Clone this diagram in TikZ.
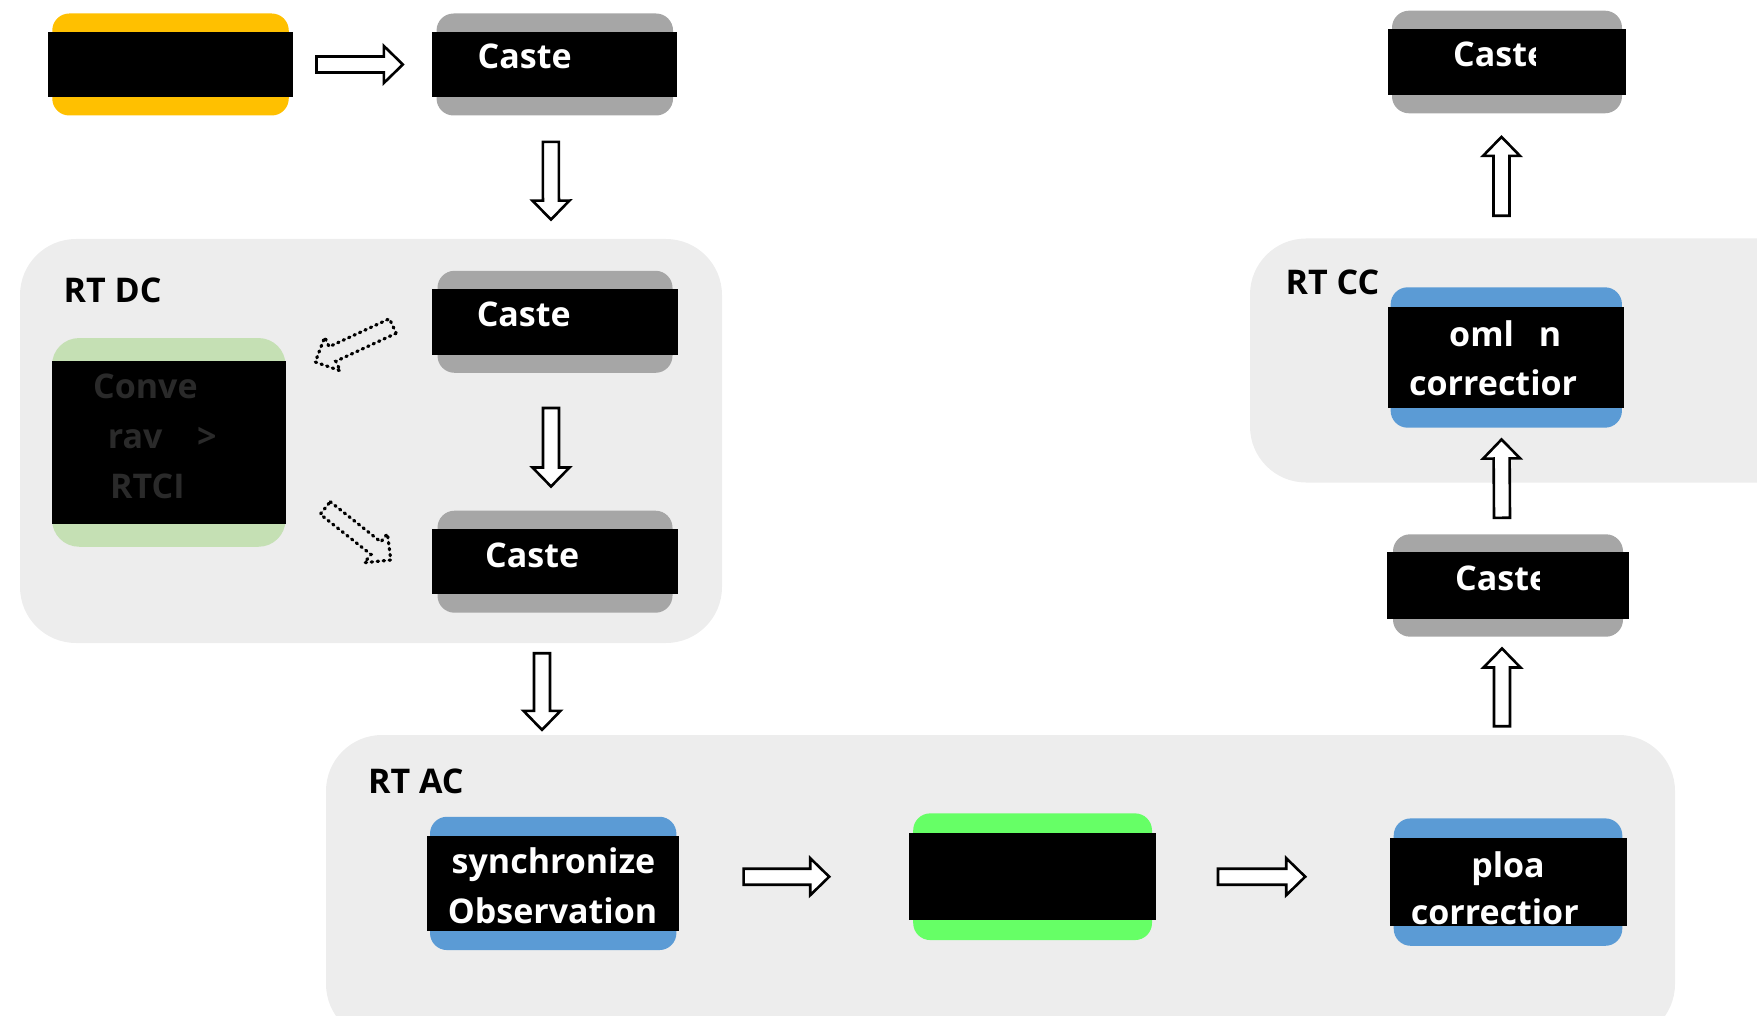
\documentclass[tikz,border=0pt]{standalone}
\usepackage{fontspec}
\setmainfont{Open Sans}
\usetikzlibrary{calc}

\definecolor{grpfill}{HTML}{EDEDED}
\definecolor{capgray}{HTML}{A6A6A6}
\definecolor{srcyellow}{HTML}{FFC000}
\definecolor{convgreen}{HTML}{C5E0B4}
\definecolor{procblue}{HTML}{5B9BD5}
\definecolor{brightgreen}{HTML}{66FF66}
\definecolor{dimtext}{HTML}{2A2A2A}

\tikzset{
  grpbox/.style={fill=grpfill, rounded corners=56pt, inner sep=0pt},
  outerbox/.style={rounded corners=17pt, inner sep=0pt},
  bandbox/.style={fill=black, inner sep=0pt},
  txt/.style={inner sep=0pt, text=white, font=\bfseries\fontsize{34}{40}\selectfont,
              text height=24pt, text depth=0pt},
  grplabel/.style={txt, text=black, anchor=west},
  barrow/.style={draw=black, fill=white, line width=2.6pt, line join=miter},
  dotbarrow/.style={fill=none, line width=3.2pt, line cap=round, dash pattern=on 1.4pt off 4.6pt}
}

% coloured rounded box with a black band across it
% #1 extra box options, #2 name, #3 colour, #4 cx, #5 cy, #6 outer w, #7 outer h, #8 band w, #9 band h
\newcommand\bandedbox[9][]{%
  \node[outerbox, fill=#3, minimum width=#6pt, minimum height=#7pt, #1] (#2) at (#4,#5) {};
  \node[bandbox, minimum width=#8pt, minimum height=#9pt] (#2-band) at (#4,#5) {};
}

% outlined block arrow from tail #2 to tip #3
\newcommand\blockarrow[3][]{%
  \coordinate (ba-a) at #2;
  \coordinate (ba-b) at #3;
  \coordinate (ba-h) at ($(ba-b)!19pt!(ba-a)$);
  \draw[barrow,#1] ($(ba-a)!8pt!90:(ba-b)$) -- ($(ba-h)!8pt!-90:(ba-a)$)
    -- ($(ba-h)!18.5pt!-90:(ba-a)$) -- (ba-b) -- ($(ba-h)!18.5pt!90:(ba-a)$)
    -- ($(ba-h)!8pt!90:(ba-a)$) -- ($(ba-a)!8pt!-90:(ba-b)$) -- cycle;
}

\begin{document}
\begin{tikzpicture}[x=1pt,y=-1pt]
\useasboundingbox (0,0) rectangle (1757,1016);
\clip (0,0) rectangle (1757,1016);

% group panels
\node[grpbox, minimum width=702pt, minimum height=404pt] (dc) at (371,441) {};
\node[grpbox, minimum width=1349pt, minimum height=305pt] (ac) at (1000.5,887.5) {};
\node[grpbox, minimum width=570pt, minimum height=244pt] (cc) at (1535,360.5) {};
\node[grplabel] (dc-label) at (63.5,291) {RT DC};
\node[grplabel] (ac-label) at (368,781.5) {RT AC};
\node[grplabel] (cc-label) at (1285.5,283) {RT CC};

% left column
\bandedbox{src}{srcyellow}{170.5}{64.5}{236.5}{102}{245}{65}
\bandedbox{c1}{capgray}{554.8}{64.5}{236.5}{102}{245}{65}
\node[txt, anchor=west] (c1-text) at (477.5,56.7) {Caste};

\bandedbox{c2}{capgray}{555}{321.8}{235}{102}{245.5}{66}
\node[txt, anchor=west] (c2-text) at (476.6,315) {Caste};

\bandedbox{c3}{capgray}{555}{561.7}{235}{102}{245.5}{65}
\node[txt, anchor=west] (c3-text) at (485,555) {Caste};

\bandedbox[rounded corners=27pt]{conv}{convgreen}{168.8}{442.4}{233.5}{208.7}{233.5}{163.3}
\node[txt, text=dimtext, anchor=west] (conv-l1) at (93,386.7) {Conve};
\node[txt, text=dimtext, anchor=west] (conv-l2) at (107.6,436.7) {rav};
\node[txt, text=dimtext, anchor=west] (conv-l2b) at (197,436.7) {>};
\node[txt, text=dimtext, anchor=west] (conv-l3) at (110,486.7) {RTCI};

% bottom row
\bandedbox{sync}{procblue}{553.2}{883.4}{246.4}{133.3}{252}{94.7}
\node[txt] (sync-l1) at (553.5,861.7) {synchronize};
\node[txt] (sync-l2) at (552.5,911.7) {Observation};

\bandedbox{mid}{brightgreen}{1032.6}{876.7}{238.8}{126.7}{247.3}{86.7}

\bandedbox{ploa}{procblue}{1508}{882.1}{228.6}{127.4}{237}{87.7}
\node[txt] (ploa-l1) at (1508,865) {ploa};
\node[txt, anchor=west] (ploa-l2) at (1410.6,912.7) {correctior};

% right column
\bandedbox{cm}{capgray}{1508}{585.5}{230}{102.4}{241.5}{66.3}
\begin{scope}
  \clip (1440,540) rectangle (1539,630);
  \node[txt, anchor=west] (cm-text) at (1455,578) {Caste};
\end{scope}

\bandedbox{oml}{procblue}{1506.3}{357.5}{231.3}{140.4}{236.3}{100.4}
\node[txt, anchor=west] (oml-l1a) at (1449,335) {oml};
\node[txt, anchor=west] (oml-l1b) at (1538.6,335) {n};
\node[txt, anchor=west] (oml-l2) at (1409,383.3) {correctior};

\bandedbox{ct}{capgray}{1507}{62}{230}{102.6}{238.7}{65.7}
\begin{scope}
  \clip (1440,20) rectangle (1535,105);
  \node[txt, anchor=west] (ct-text) at (1453,55) {Caste};
\end{scope}

% connectors
\blockarrow{($(src.east)+(27.5,0)$)}{($(c1.west)+(-33.5,0)$)}
\blockarrow{($(c1.south)+(-4,26.2)$)}{($(c2.north)+(-4,-51)$)}
\blockarrow{($(c2.south)+(-4,35)$)}{($(c3.north)+(-4,-24)$)}
\blockarrow{($(c3.south)+(-13,40.3)$)}{($(sync.north)+(-11.2,-86.7)$)}
\blockarrow{($(sync.east)+(67,-6.7)$)}{($(mid.west)+(-83.8,0)$)}
\blockarrow{($(mid.east)+(65.8,0)$)}{($(ploa.west)+(-88.3,-5.4)$)}
\blockarrow{($(ploa.north)+(-6,-92)$)}{($(cm.south)+(-6,11.6)$)}
\blockarrow{($(cm.north)+(-6,-16.3)$)}{($(oml.south)+(-4.8,11.6)$)}
\blockarrow{($(oml.north)+(-4.8,-71.3)$)}{($(ct.south)+(-5.5,23.4)$)}

% dotted links between the converter and the RT DC casters
\blockarrow[dotbarrow]{($(c2.west)+(-44.5,4.2)$)}{($(conv.east)+(29.5,-80.4)$)}
\blockarrow[dotbarrow]{($(conv.east)+(39.5,65.6)$)}{($(c3.west)+(-46.5,-1.7)$)}
\end{tikzpicture}
\end{document}
